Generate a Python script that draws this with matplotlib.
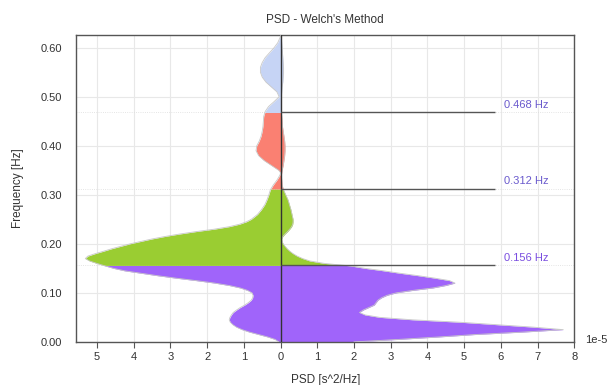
import numpy as np
import matplotlib
matplotlib.use("Agg")
import matplotlib.pyplot as plt

plt.rcParams['font.family'] = ['Liberation Sans', 'DejaVu Sans']

# Frequency grid [Hz]
freq = [0.000, 0.005, 0.010, 0.015, 0.020, 0.025, 0.030, 0.035, 0.040, 0.045,
        0.050, 0.055, 0.060, 0.065, 0.070, 0.075, 0.080, 0.085, 0.090, 0.095,
        0.100, 0.105, 0.110, 0.115, 0.120, 0.125, 0.130, 0.135, 0.140, 0.145,
        0.150, 0.155, 0.160, 0.165, 0.170, 0.175, 0.180, 0.185, 0.190, 0.195,
        0.200, 0.205, 0.210, 0.215, 0.220, 0.225, 0.230, 0.235, 0.240, 0.245,
        0.250, 0.260, 0.270, 0.280, 0.290, 0.300, 0.310, 0.320, 0.330, 0.340,
        0.345, 0.350, 0.360, 0.370, 0.380, 0.390, 0.400, 0.410, 0.420, 0.430,
        0.440, 0.450, 0.460, 0.470, 0.480, 0.490, 0.500, 0.510, 0.520, 0.530,
        0.540, 0.550, 0.560, 0.570, 0.580, 0.590, 0.600, 0.610, 0.620, 0.625]

# PSD drawn to the right (x 1e-5 s^2/Hz)
psd_right = [2.00, 3.20, 4.30, 5.30, 6.60, 7.70, 6.90, 5.90, 4.90, 3.60,
             2.70, 2.30, 2.15, 2.25, 2.40, 2.55, 2.60, 2.65, 2.75, 2.90,
             3.15, 3.60, 4.15, 4.50, 4.75, 4.60, 4.20, 3.75, 3.25, 2.80,
             2.30, 1.90, 1.20, 0.80, 0.60, 0.45, 0.34, 0.25, 0.18, 0.12,
             0.07, 0.04, 0.03, 0.06, 0.12, 0.19, 0.25, 0.30, 0.33, 0.34,
             0.34, 0.31, 0.28, 0.24, 0.20, 0.14, 0.08, 0.04, 0.03, 0.02,
             0.03, 0.04, 0.07, 0.09, 0.11, 0.12, 0.12, 0.11, 0.09, 0.07,
             0.05, 0.04, 0.03, 0.02, 0.02, 0.02, 0.02, 0.03, 0.04, 0.06,
             0.07, 0.08, 0.08, 0.07, 0.06, 0.05, 0.04, 0.03, 0.02, 0.01]

# PSD drawn to the left (x 1e-5 s^2/Hz, magnitude)
psd_left = [0.05, 0.15, 0.35, 0.60, 0.85, 1.05, 1.20, 1.30, 1.37, 1.40,
            1.38, 1.34, 1.29, 1.20, 1.10, 0.98, 0.88, 0.80, 0.76, 0.75,
            0.78, 0.90, 1.10, 1.40, 1.80, 2.30, 2.85, 3.35, 3.80, 4.25,
            4.55, 4.78, 5.00, 5.20, 5.32, 5.25, 5.05, 4.82, 4.60, 4.35,
            4.10, 3.80, 3.50, 3.15, 2.75, 2.30, 1.80, 1.40, 1.12, 0.93,
            0.80, 0.63, 0.52, 0.43, 0.37, 0.32, 0.28, 0.20, 0.10, 0.02,
            0.00, 0.05, 0.25, 0.45, 0.60, 0.67, 0.65, 0.58, 0.53, 0.50,
            0.48, 0.47, 0.46, 0.42, 0.33, 0.18, 0.04, 0.10, 0.25, 0.40,
            0.50, 0.55, 0.55, 0.50, 0.42, 0.30, 0.18, 0.08, 0.02, 0.00]

band_edges = [0.0, 0.156, 0.312, 0.468, 0.625]
band_colors = ['#a064fa', '#9acd32', '#fa8072', '#c6d4f5']
marker_freqs = [0.156, 0.312, 0.468]
marker_labels = ['0.156 Hz', '0.312 Hz', '0.468 Hz']
marker_colors = ['#7a4ee0', '#6a5acd', '#6a5acd']

xtick_vals = [-5, -4, -3, -2, -1, 0, 1, 2, 3, 4, 5, 6, 7, 8]
xtick_labels = ['5', '4', '3', '2', '1', '0', '1', '2', '3', '4', '5', '6', '7', '8']
ytick_vals = [0.0, 0.1, 0.2, 0.3, 0.4, 0.5, 0.6]

f = np.array(freq)
R = np.array(psd_right)
L = np.array(psd_left)

fig = plt.figure(figsize=(6.09, 3.85), dpi=100)
ax = fig.add_axes([0.125, 0.112, 0.818, 0.797])

ax.set_xlim(-5.57, 8.0)
ax.set_ylim(0, 0.626)

ax.set_xticks(xtick_vals)
ax.set_xticklabels(xtick_labels)
ax.set_yticks(ytick_vals)
ax.set_yticklabels([f"{v:.2f}" for v in ytick_vals])
ax.grid(True, color='#e8e8e8', lw=0.8)
ax.set_axisbelow(True)

for b in marker_freqs:
    ax.axhline(b, color='#dcdcdc', lw=0.6, ls=':', zorder=1)

for (lo, hi), col in zip(zip(band_edges[:-1], band_edges[1:]), band_colors):
    m = (f > lo) & (f < hi)
    ff = np.concatenate([[lo], f[m], [hi]])
    rr = np.interp(ff, f, R)
    ll = np.interp(ff, f, L)
    ax.fill_betweenx(ff, -ll, rr, color=col, lw=0, zorder=2)

ax.plot(R, f, color='#c8c8c8', lw=0.6, zorder=3)
ax.plot(-L, f, color='#c8c8c8', lw=0.6, zorder=3)

ax.axvline(0, color='#333333', lw=1.0, zorder=4)
ax.hlines(marker_freqs, 0, 5.85, color='#555555', lw=1.0, zorder=4)
for fr, lab, c in zip(marker_freqs, marker_labels, marker_colors):
    ax.text(6.68, fr + 0.016, lab, color=c, fontsize=8, ha='center', va='center', zorder=5)

for s in ax.spines.values():
    s.set_color('#555555')
    s.set_linewidth(1.0)

ax.tick_params(axis='x', length=4, width=0.8, color='#555555', labelsize=8, labelcolor='#333333', pad=3)
ax.tick_params(axis='y', length=0, labelsize=8, labelcolor='#333333', pad=10)

ax.text(1.022, 0.005, '1e-5', transform=ax.transAxes, fontsize=8, color='#333333', ha='left', va='center')

ax.set_title("PSD - Welch's Method", fontsize=8.5, color='#333333', pad=9)
ax.set_xlabel('PSD [s^2/Hz]', fontsize=8.5, color='#333333', labelpad=9)
ax.set_ylabel('Frequency [Hz]', fontsize=8.5, color='#333333', labelpad=12)

fig.savefig('out.png', dpi=100)
